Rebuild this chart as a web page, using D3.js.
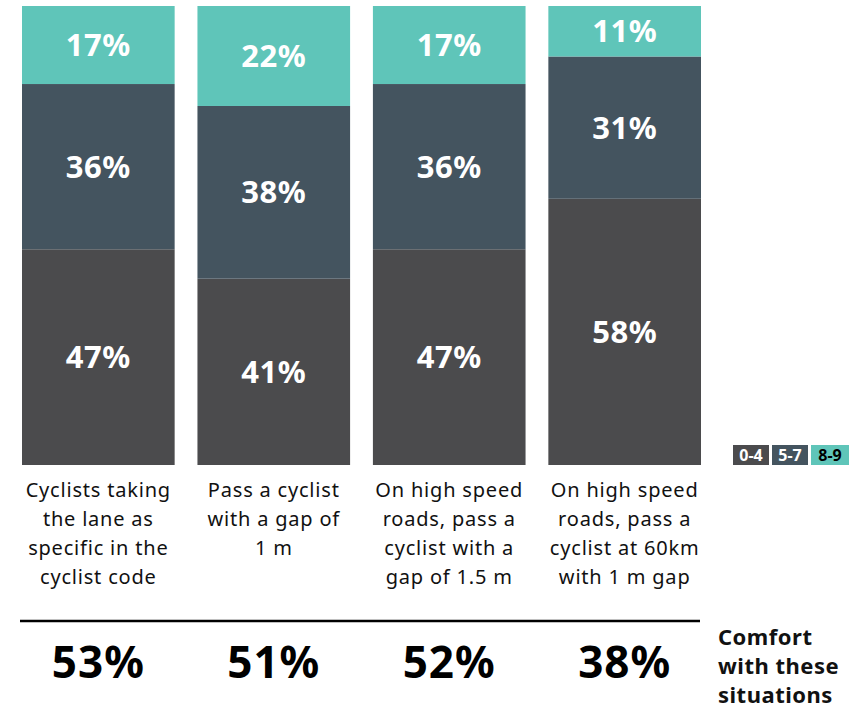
<!DOCTYPE html>
<html>
<head>
<meta charset="utf-8">
<script src="https://cdn.jsdelivr.net/npm/d3@7"></script>
<style>
  body { margin: 0; background: #fff; }
  text { font-family: "Noto Sans", "Lato", sans-serif; }
</style>
</head>
<body>
<div class="chart-container"></div>
<script>
"use strict";

// data
let categories = [
  ["Cyclists taking", "the lane as", "specific in the", "cyclist code"],
  ["Pass a cyclist", "with a gap of", "1 m"],
  ["On high speed", "roads, pass a", "cyclist with a", "gap of 1.5 m"],
  ["On high speed", "roads, pass a", "cyclist at 60km", "with 1 m gap"]
];
let low = [47, 41, 47, 58];   // 0-4
let mid = [36, 38, 36, 31];   // 5-7
let high = [17, 22, 17, 11];  // 8-9
let comfort = [53, 51, 52, 38];
let legendLabels = ["0-4", "5-7", "8-9"];
let colors = ["#4b4b4d", "#44545f", "#5fc5b9"];

let width = 866, height = 708;
let svg = d3.select(".chart-container").append("svg")
  .attr("width", width)
  .attr("height", height);

let rows = categories.map((c, i) => ({ i: i, "0-4": low[i], "5-7": mid[i], "8-9": high[i] }));
// each column is normalised to its own total
rows.forEach(r => {
  r.tot = r["0-4"] + r["5-7"] + r["8-9"];
});

let x = d3.scaleBand()
  .domain(d3.range(categories.length))
  .range([22, 701])
  .paddingInner(0.13)
  .paddingOuter(0);

let y = d3.scaleLinear().domain([0, 1]).range([465, 6]);

let stack = d3.stack().keys(legendLabels)
  .value((d, k) => d[k] / d.tot);
let series = stack(rows);

let g = svg.selectAll("g.series")
  .data(series)
  .enter().append("g")
  .attr("class", "series")
  .attr("fill", (d, i) => colors[i]);

g.selectAll("rect")
  .data(d => d)
  .enter().append("rect")
  .attr("x", d => x(d.data.i))
  .attr("width", x.bandwidth())
  .attr("y", d => y(d[1]))
  .attr("height", d => y(d[0]) - y(d[1]));

g.selectAll("text")
  .data(d => d.map(v => Object.assign(v, { key: d.key })))
  .enter().append("text")
  .attr("x", d => x(d.data.i) + x.bandwidth() / 2)
  .attr("y", d => (y(d[0]) + y(d[1])) / 2)
  .attr("dy", "0.36em")
  .attr("text-anchor", "middle")
  .attr("fill", "#fff")
  .attr("font-size", 31)
  .attr("font-weight", 700)
  .attr("letter-spacing", 0.5)
  .text(d => d.data[d.key] + "%");

// category labels
let cat = svg.selectAll("text.cat")
  .data(categories)
  .enter().append("text")
  .attr("class", "cat")
  .attr("text-anchor", "middle")
  .attr("font-size", 20)
  .attr("letter-spacing", 0.8)
  .attr("fill", "#111");
cat.selectAll("tspan")
  .data((d, i) => d.map(t => ({ t: t, i: i })))
  .enter().append("tspan")
  .attr("x", d => x(d.i) + x.bandwidth() / 2)
  .attr("y", (d, j) => 497 + j * 29)
  .text(d => d.t);

// legend
let lx = [733, 772, 811];
let lw = [36, 36, 38];
legendLabels.forEach((l, i) => {
  svg.append("rect")
    .attr("x", lx[i]).attr("y", 445)
    .attr("width", lw[i]).attr("height", 20)
    .attr("fill", colors[i]);
  svg.append("text")
    .attr("x", lx[i] + lw[i] / 2).attr("y", 461)
    .attr("text-anchor", "middle")
    .attr("font-size", 16)
    .attr("font-weight", 700)
    .attr("fill", i === 2 ? "#000" : "#fff")
    .text(l);
});

// divider
svg.append("line")
  .attr("x1", 20).attr("x2", 700)
  .attr("y1", 621).attr("y2", 621)
  .attr("stroke", "#000")
  .attr("stroke-width", 2.5);

// comfort totals
svg.selectAll("text.comfort")
  .data(comfort)
  .enter().append("text")
  .attr("class", "comfort")
  .attr("x", (d, i) => x(i) + x.bandwidth() / 2)
  .attr("y", 678)
  .attr("text-anchor", "middle")
  .attr("font-size", 44)
  .attr("font-weight", 700)
  .attr("letter-spacing", 1)
  .attr("fill", "#000")
  .text(d => d + "%");

let side = svg.append("text")
  .attr("font-size", 22)
  .attr("font-weight", 700)
  .attr("letter-spacing", 0.5)
  .attr("fill", "#111");
["Comfort", "with these", "situations"].forEach((t, j) => {
  side.append("tspan").attr("x", 718).attr("y", 645 + j * 29).text(t);
});
</script>
</body>
</html>
